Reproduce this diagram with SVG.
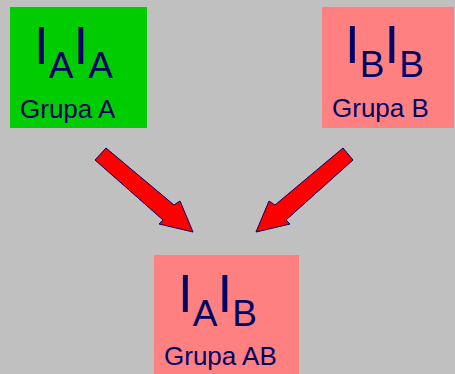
<svg xmlns="http://www.w3.org/2000/svg" width="455" height="374" viewBox="0 0 455 374">
<style>
.t{font-family:"Liberation Sans",Arial,sans-serif;fill:#000066}
.big{font-size:53px}
.sub{font-size:37px}
.lbl{font-size:26px}
.arrow{fill:#FF0000;stroke:#000066;stroke-width:1;stroke-linejoin:miter}
</style>
<rect x="0" y="0" width="455" height="374" fill="#C0C0C0"/>
<g id="grupaA">
<rect x="10" y="7" width="137" height="121" fill="#00CC00"/>
<text class="t big" x="34" y="64">I<tspan class="sub" dy="14">A</tspan><tspan class="big" dy="-14">I</tspan><tspan class="sub" dy="14">A</tspan></text>
<text class="t lbl" x="20" y="118">Grupa A</text>
</g>
<g id="grupaB">
<rect x="322" y="7" width="132" height="121" fill="#FF8080"/>
<text class="t big" x="345" y="63">I<tspan class="sub" dy="14">B</tspan><tspan class="big" dy="-14">I</tspan><tspan class="sub" dy="14">B</tspan></text>
<text class="t lbl" x="332" y="117">Grupa B</text>
</g>
<g id="grupaAB">
<rect x="154" y="255" width="145" height="119" fill="#FF8080"/>
<text class="t big" x="178" y="312">I<tspan class="sub" dy="14">A</tspan><tspan class="big" dy="-14">I</tspan><tspan class="sub" dy="14">B</tspan></text>
<text class="t lbl" x="164" y="365">Grupa AB</text>
</g>
<g id="connectors">
<polygon class="arrow" points="106,148 174,205 180,201 193,232 159,224 163,220 95,160"/>
<polygon class="arrow" points="343,148 275,205 269,201 256,232 290,224 286,220 353,160"/>
</g>
</svg>
